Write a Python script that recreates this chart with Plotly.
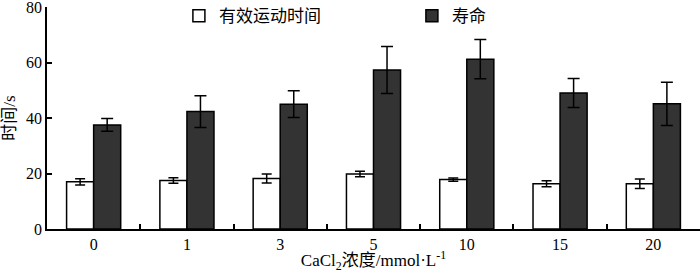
import plotly.graph_objects as go

categories = ["0", "1", "3", "5", "10", "15", "20"]
effective_time = [17.0, 17.5, 18.2, 19.8, 17.8, 16.3, 16.3]
effective_err = [1.1, 1.0, 1.6, 1.0, 0.6, 1.1, 1.7]
lifespan = [37.5, 42.3, 45.0, 57.3, 61.2, 49.0, 45.1]
lifespan_err = [2.3, 5.7, 4.8, 8.5, 7.1, 5.2, 7.8]
y_ticks = [0, 20, 40, 60, 80]

FONT = "Liberation Serif, Noto Sans CJK SC, serif"

fig = go.Figure()
fig.add_trace(go.Bar(
    x=categories, y=effective_time, name="有效运动时间",
    marker=dict(color="white", line=dict(color="black", width=1.5)),
    error_y=dict(type="data", array=effective_err, color="black", thickness=1.5, width=5),
))
fig.add_trace(go.Bar(
    x=categories, y=lifespan, name="寿命",
    marker=dict(color="#333333", line=dict(color="black", width=1.5)),
    error_y=dict(type="data", array=lifespan_err, color="black", thickness=1.5, width=6),
))

fig.update_layout(
    width=700, height=273,
    margin=dict(l=47, r=0, t=7, b=44, autoexpand=False),
    paper_bgcolor="white", plot_bgcolor="white",
    barmode="group", bargap=0.42, bargroupgap=0,
    font=dict(family=FONT, size=16, color="black"),
    showlegend=True,
    legend=dict(orientation="h", x=0.202, y=1.04, xanchor="left", yanchor="top",
                entrywidth=188, entrywidthmode="pixels", itemwidth=30,
                font=dict(size=17, family=FONT), bgcolor="rgba(0,0,0,0)"),
    xaxis=dict(type="category", showline=True, linecolor="black", linewidth=1.5,
               ticks="inside", tickson="boundaries", ticklen=5, tickcolor="black",
               tickwidth=1.5, showgrid=False, automargin=False,
               title=dict(text="CaCl<sub>2</sub>浓度/mmol·L<sup>-1</sup>", standoff=2,
                          font=dict(size=17))),
    yaxis=dict(range=[0, 80], tickvals=y_ticks, showline=True, linecolor="black",
               linewidth=1.5, ticks="inside", ticklen=5, tickcolor="black", tickwidth=1.5,
               showgrid=False, zeroline=False, automargin=False, ticklabeloverflow="allow",
               title=dict(text="时间/s", standoff=10, font=dict(size=17))),
)

fig.write_html("out.html", config={"displayModeBar": False},
               post_script="document.body.style.margin='0';")
